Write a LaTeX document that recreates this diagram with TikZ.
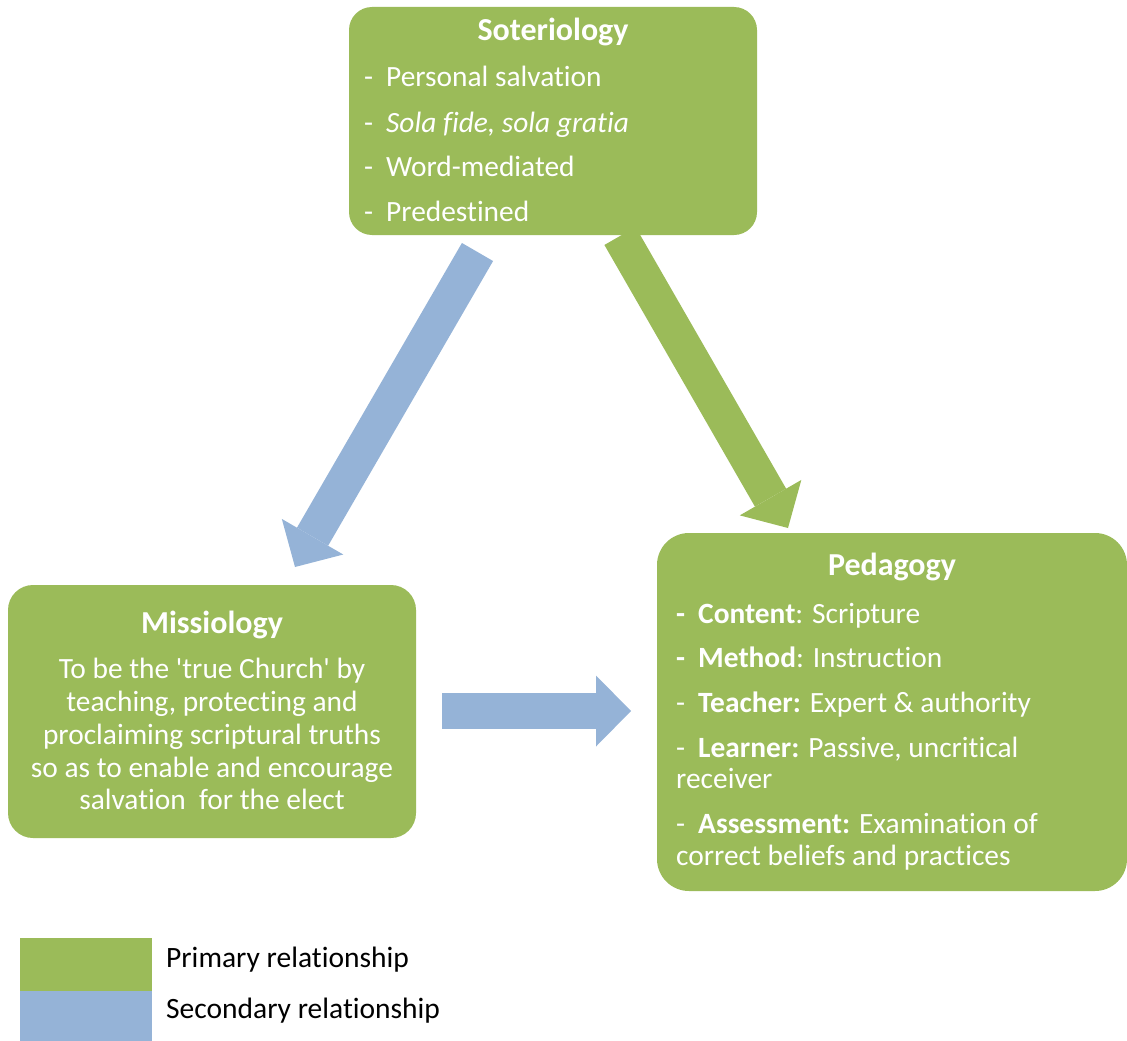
\documentclass[tikz,border=0pt]{standalone}
\usepackage{fontspec}
\setmainfont{Carlito}[Ligatures=NoCommon]
\usepackage{tikz}
\usetikzlibrary{arrows.meta}
\usepackage{xcolor}
\definecolor{olive_green}{HTML}{9BBB59}
\definecolor{pale_blue}{HTML}{95B3D7}
\newcommand{\itemdash}[1]{\makebox[22pt][l]{#1}}

\begin{document}
\begin{tikzpicture}[x=1pt, y=-1pt,
	theme box/.style={fill=olive_green, rounded corners=#1, anchor=north west, inner sep=0pt, outer sep=0pt},
	box text/.style={text=white, inner sep=0pt, anchor=base west, font=\fontsize{29.4}{35}\selectfont},
	centre text/.style={box text, anchor=base},
	box title/.style={centre text, font=\fontsize{32}{35}\selectfont\bfseries},
	key text/.style={inner sep=0pt, anchor=base west, font=\fontsize{29.5}{34}\selectfont},
	block arrow/.style={line width=36pt, -{Triangle[width=71pt, length=35pt, line width=0pt]}}]
	\useasboundingbox (0, 0) rectangle (1127, 1041);
	\coordinate (B1) at (477.5, 252);
	\coordinate (B2) at (295, 567);
	\coordinate (G1) at (620, 236);
	\coordinate (G2) at (788, 528);
	\coordinate (H1) at (442, 711);
	\coordinate (H2) at (631, 711);
	\node[theme box=23pt, minimum width=408pt, minimum height=228pt] (soter) at (349, 7) {};
	\node[theme box=25pt, minimum width=408pt, minimum height=253pt] (missio) at (8, 585) {};
	\node[theme box=32pt, minimum width=470pt, minimum height=358pt] (peda) at (657, 533) {};
	\draw[block arrow, pale_blue] (B1) -- (B2);
	\draw[block arrow, olive_green] (G1) -- (G2);
	\draw[block arrow, pale_blue] (H1) -- (H2);
	\node[box title] (soterT) at (553, 41) {Soteriology};
	\node[box text] (soter1) at (364, 87) {\itemdash{-}Personal salvation};
	\node[box text] (soter2) at (364, 132) {\itemdash{-}\textit{Sola fide, sola gratia}};
	\node[box text] (soter3) at (364, 176) {\itemdash{-}Word-mediated};
	\node[box text] (soter4) at (364, 221) {\itemdash{-}Predestined};
	\node[box title] (missioT) at (212, 633) {Missiology};
	\node[centre text] (missio1) at (212, 678) {To be the \textquotesingle true Church\textquotesingle{} by};
	\node[centre text] (missio2) at (212, 711.5) {teaching, protecting and};
	\node[centre text] (missio3) at (212, 744.5) {proclaiming scriptural truths};
	\node[centre text] (missio4) at (212, 777) {so as to enable and encourage};
	\node[centre text] (missio5) at (212, 809) {salvation\ \ for the elect};
	\node[box title] (pedaT) at (892, 575) {Pedagogy};
	\node[box text] (peda1) at (676, 623) {\itemdash{\textbf{-}}\textbf{Content}: Scripture};
	\node[box text] (peda2) at (676, 667) {\itemdash{\textbf{-}}\textbf{Method}: Instruction};
	\node[box text] (peda3) at (676, 712) {\itemdash{-}\textbf{Teacher:} Expert \& authority};
	\node[box text] (peda4) at (676, 757) {\itemdash{-}\textbf{Learner:} Passive, uncritical};
	\node[box text] (peda5) at (676, 788) {receiver};
	\node[box text] (peda6) at (676, 833) {\itemdash{-}\textbf{Assessment:} Examination of};
	\node[box text] (peda7) at (676, 865) {correct beliefs and practices};
	\fill[olive_green] (20, 938) rectangle (152, 991);
	\fill[pale_blue] (20, 991) rectangle (152, 1041);
	\node[key text] (keyP) at (166, 967) {Primary relationship};
	\node[key text] (keyS) at (166, 1018) {Secondary relationship};
\end{tikzpicture}
\end{document}
